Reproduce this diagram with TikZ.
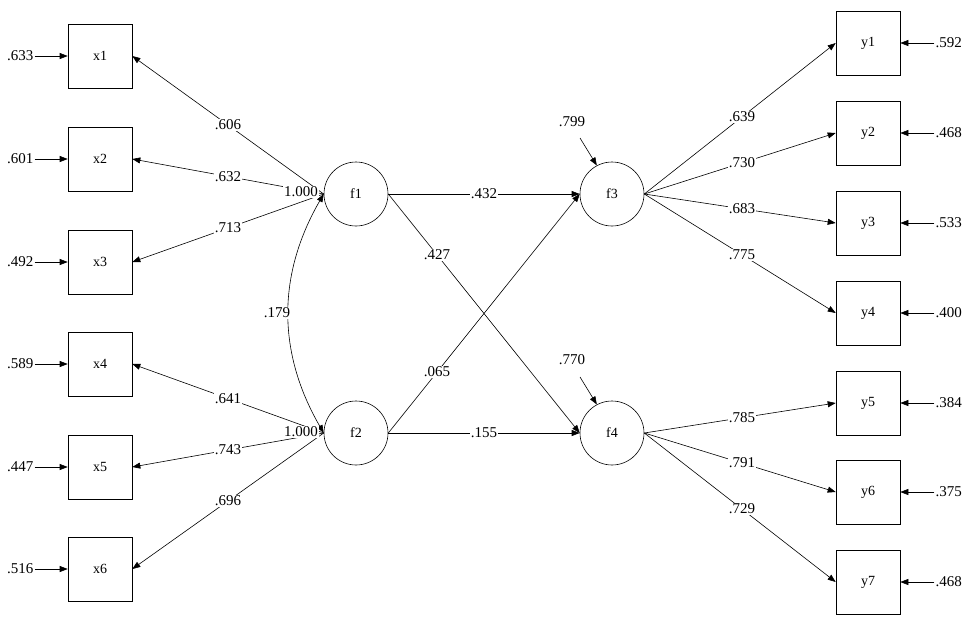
\documentclass[tikz,border=0pt]{standalone}
\usepackage{fontspec}
\setmainfont{Liberation Serif}
\usetikzlibrary{arrows.meta}
\begin{document}
\begin{tikzpicture}[x=1pt,y=-1pt,line width=0.6pt,
  obs/.style={draw, minimum width=64pt, minimum height=64pt, inner sep=0pt, font=\fontsize{14}{16}\selectfont},
  lat/.style={draw, circle, minimum size=64pt, inner sep=0pt, font=\fontsize{14}{16}\selectfont},
  lbl/.style={fill=white, inner sep=1pt, font=\fontsize{15}{17}\selectfont},
  err/.style={inner sep=1pt, font=\fontsize{15}{17}\selectfont},
  arr/.style={-{Triangle[length=8pt,width=6pt]}},
  darr/.style={{Triangle[length=8pt,width=6pt]}-{Triangle[length=8pt,width=6pt]}}]
\useasboundingbox[fill=white] (0,0) rectangle (975,625);

% observed x
\node[obs] (x1) at (100,56) {x1};
\node[obs] (x2) at (100,159) {x2};
\node[obs] (x3) at (100,262) {x3};
\node[obs] (x4) at (100,364) {x4};
\node[obs] (x5) at (100,467) {x5};
\node[obs] (x6) at (100,569) {x6};
% observed y
\node[obs] (y1) at (868,43) {y1};
\node[obs] (y2) at (868,133) {y2};
\node[obs] (y3) at (868,223) {y3};
\node[obs] (y4) at (868,313) {y4};
\node[obs] (y5) at (868,403) {y5};
\node[obs] (y6) at (868,492) {y6};
\node[obs] (y7) at (868,582) {y7};
% latent
\node[lat] (f1) at (356,194) {f1};
\node[lat] (f2) at (356,433) {f2};
\node[lat] (f3) at (612,194) {f3};
\node[lat] (f4) at (612,433) {f4};

% error terms x
\foreach \n/\v in {x1/.633, x2/.601, x3/.492, x4/.589, x5/.447, x6/.516}{
  \node[err, anchor=east] (e\n) at ([xshift=-33pt]\n.west) {\v};
  \draw[arr] (e\n) -- (\n);
}
% error terms y
\foreach \n/\v in {y1/.592, y2/.468, y3/.533, y4/.400, y5/.384, y6/.375, y7/.468}{
  \node[err, anchor=west] (e\n) at ([xshift=34pt]\n.east) {\v};
  \draw[arr] (e\n) -- (\n);
}

% loadings f1, f2
\draw[arr] (f1.west) -- node[lbl, pos=0.5] {.606} (x1.east);
\draw[arr] (f1.west) -- node[lbl, pos=0.5] {.632} (x2.east);
\draw[arr] (f1.west) -- node[lbl, pos=0.5] {.713} (x3.east);
\draw[arr] (f2.west) -- node[lbl, pos=0.5] {.641} (x4.east);
\draw[arr] (f2.west) -- node[lbl, pos=0.5] {.743} (x5.east);
\draw[arr] (f2.west) -- node[lbl, pos=0.5] {.696} (x6.east);

% correlation
\draw[darr] (f2.west) to[bend left=30] (f1.west);
\node[lbl] (r12) at (277,313) {.179};
\node[lbl] (v1) at (301,192) {1.000};
\node[lbl] (v2) at (301,432) {1.000};

% structural paths
\draw[arr] (f1.east) -- node[lbl, pos=0.5] {.432} (f3.west);
\draw[arr] (f1.east) -- node[lbl, pos=0.255] {.427} (f4.west);
\draw[arr] (f2.east) -- node[lbl, pos=0.255] {.065} (f3.west);
\draw[arr] (f2.east) -- node[lbl, pos=0.5] {.155} (f4.west);

% disturbances
\node[err] (d3) at (572,122) {.799};
\coordinate (d3s) at (580,138);
\draw[arr] (d3s) -- (f3.118);
\node[err] (d4) at (572,360) {.770};
\coordinate (d4s) at (580,377);
\draw[arr] (d4s) -- (f4.118);

% loadings f3, f4
\draw[arr] (f3.east) -- node[lbl, pos=0.51] {.639} (y1.west);
\draw[arr] (f3.east) -- node[lbl, pos=0.51] {.730} (y2.west);
\draw[arr] (f3.east) -- node[lbl, pos=0.51] {.683} (y3.west);
\draw[arr] (f3.east) -- node[lbl, pos=0.51] {.775} (y4.west);
\draw[arr] (f4.east) -- node[lbl, pos=0.51] {.785} (y5.west);
\draw[arr] (f4.east) -- node[lbl, pos=0.51] {.791} (y6.west);
\draw[arr] (f4.east) -- node[lbl, pos=0.51] {.729} (y7.west);
\end{tikzpicture}
\end{document}
